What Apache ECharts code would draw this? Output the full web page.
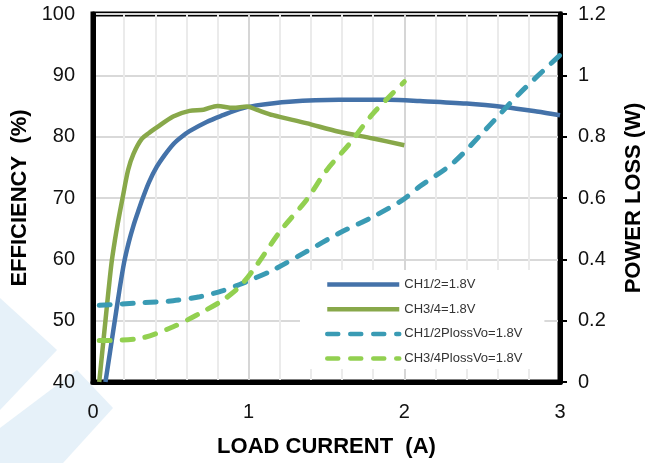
<!DOCTYPE html>
<html>
<head>
<meta charset="utf-8">
<script src="https://cdn.jsdelivr.net/npm/echarts@6/dist/echarts.min.js"></script>
<style>
html,body{margin:0;padding:0;background:#fff;}
#chart{width:654px;height:463px;}
</style>
</head>
<body>
<div id="chart"></div>
<script>
// ---- Data ----
const xTicks = [0, 1, 2, 3];
const effTicks = [40, 50, 60, 70, 80, 90, 100];
const lossTicks = [0, 0.2, 0.4, 0.6, 0.8, 1, 1.2];

const seriesNames = ['CH1/2=1.8V', 'CH3/4=1.8V', 'CH1/2PlossVo=1.8V', 'CH3/4PlossVo=1.8V'];

const ch12EffX = [0.08, 0.11, 0.14, 0.17, 0.2, 0.23, 0.26, 0.29, 0.32, 0.36, 0.41, 0.46, 0.52, 0.57, 0.62, 0.73, 0.835, 0.94, 1.05, 1.26, 1.58, 1.9, 2.1, 2.4, 2.65, 2.85, 3.0];
const ch12EffY = [40, 45, 50, 55, 59.5, 62.8, 65.5, 67.8, 70, 72.6, 75.1, 77, 78.9, 80, 80.9, 82.4, 83.5, 84.5, 85.1, 85.7, 86.0, 86.0, 85.8, 85.4, 84.8, 84.1, 83.5];

const ch34EffX = [0.04, 0.06, 0.08, 0.1, 0.12, 0.14, 0.16, 0.19, 0.226, 0.26, 0.312, 0.36, 0.41, 0.515, 0.62, 0.71, 0.8, 0.9, 0.99, 1.05, 1.156, 1.37, 1.58, 1.8, 2.0];
const ch34EffY = [40, 45, 50, 55, 59.6, 63, 66, 70, 74.6, 77.2, 79.6, 80.6, 81.5, 83.3, 84.2, 84.4, 85.0, 84.7, 84.9, 84.4, 83.5, 82.2, 80.8, 79.7, 78.6];

const ch12LossX = [0.04, 0.3, 0.515, 0.686, 0.835, 0.942, 1.0, 1.156, 1.37, 1.58, 1.8, 1.99, 2.1, 2.31, 2.52, 2.74, 3.0];
const ch12LossY = [0.25, 0.258, 0.265, 0.278, 0.298, 0.318, 0.33, 0.365, 0.425, 0.485, 0.539, 0.594, 0.638, 0.713, 0.822, 0.941, 1.066];

const ch34LossX = [0.04, 0.3, 0.515, 0.686, 0.835, 0.942, 1.05, 1.2, 1.37, 1.5, 1.65, 1.8, 2.0];
const ch34LossY = [0.135, 0.142, 0.18, 0.224, 0.267, 0.311, 0.38, 0.49, 0.593, 0.69, 0.778, 0.876, 0.979];

const zip = (xs, ys) => xs.map((x, i) => [x, ys[i]]);

const FONT = "'Liberation Sans', Arial, sans-serif";
const chart = echarts.init(document.getElementById('chart'));

chart.setOption({
  backgroundColor: '#fff',
  animation: false,
  textStyle: { fontFamily: FONT },
  graphic: [
    { type: 'polygon', z: -100, silent: true,
      shape: { points: [[0, 298], [57, 350], [0, 410]] },
      style: { fill: '#e6f1f9' } },
    { type: 'polygon', z: -100, silent: true,
      shape: { points: [[0, 428], [77, 370], [113, 408], [63, 463], [0, 463]] },
      style: { fill: '#e6f1f9' } }
  ],
  grid: {
    left: 93, right: 94, top: 14, bottom: 81,
    show: true, borderColor: '#000', borderWidth: 5,
    backgroundColor: 'transparent'
  },
  legend: {
    orient: 'vertical',
    left: 300, top: 270,
    padding: [8, 22, 4, 25],
    itemGap: 11.7,
    itemWidth: 72, itemHeight: 14,
    backgroundColor: '#fff',
    data: seriesNames,
    itemStyle: { opacity: 0, borderWidth: 0 },
    lineStyle: { width: 4.5 },
    textStyle: { fontSize: 13, color: '#333', fontFamily: FONT }
  },
  xAxis: {
    type: 'value', min: xTicks[0], max: xTicks[xTicks.length - 1], interval: 1,
    name: 'LOAD CURRENT  (A)', nameLocation: 'middle', nameGap: 54,
    nameTextStyle: { fontSize: 22, fontWeight: 'bold', color: '#000', fontFamily: FONT },
    axisLine: { show: true, lineStyle: { color: '#000', width: 5 } },
    axisTick: { show: false },
    axisLabel: { fontSize: 20, color: '#111', margin: 20, fontFamily: FONT },
    splitLine: { show: true, lineStyle: { color: '#d6d6d6', width: 2 } },
    minorTick: { show: false, splitNumber: 5 },
    minorSplitLine: { show: true, lineStyle: { color: '#ebebeb', width: 2 } }
  },
  yAxis: [
    {
      type: 'value', min: effTicks[0], max: effTicks[effTicks.length - 1], interval: 10,
      position: 'left',
      name: 'EFFICIENCY  (%)', nameLocation: 'middle', nameGap: 60,
      nameTextStyle: { fontSize: 22, fontWeight: 'bold', color: '#000', fontFamily: FONT },
      axisLine: { show: true, lineStyle: { color: '#000', width: 5 } },
      axisTick: { show: false },
      axisLabel: { fontSize: 20, color: '#111', margin: 18, fontFamily: FONT },
      splitLine: { show: true, lineStyle: { color: '#d9d9d9', width: 2 } }
    },
    {
      type: 'value', min: lossTicks[0], max: lossTicks[lossTicks.length - 1], interval: 0.2,
      position: 'right',
      name: 'POWER LOSS (W)', nameLocation: 'middle', nameGap: 63,
      nameTextStyle: { fontSize: 22, fontWeight: 'bold', color: '#000', fontFamily: FONT },
      axisLine: { show: true, lineStyle: { color: '#000', width: 5 } },
      axisTick: { show: true, inside: false, length: 7, lineStyle: { color: '#000', width: 2 } },
      axisLabel: { fontSize: 20, color: '#111', margin: 18, fontFamily: FONT,
        formatter: v => String(Math.round(v * 10) / 10) },
      splitLine: { show: false }
    }
  ],
  series: [
    { name: seriesNames[0], type: 'line', yAxisIndex: 0, symbol: 'none', smooth: 0.3,
      data: zip(ch12EffX, ch12EffY), z: 3,
      lineStyle: { color: '#4472a9', width: 4.5 }, itemStyle: { color: '#4472a9' } },
    { name: seriesNames[1], type: 'line', yAxisIndex: 0, symbol: 'none', smooth: 0.3,
      data: zip(ch34EffX, ch34EffY), z: 3,
      lineStyle: { color: '#88a84a', width: 4.5 }, itemStyle: { color: '#88a84a' } },
    { name: seriesNames[2], type: 'line', yAxisIndex: 1, symbol: 'none', smooth: 0.3,
      data: zip(ch12LossX, ch12LossY), z: 3,
      lineStyle: { color: '#3a9bb4', width: 5, type: [11, 12], cap: 'round' }, itemStyle: { color: '#3a9bb4' } },
    { name: seriesNames[3], type: 'line', yAxisIndex: 1, symbol: 'none', smooth: 0.3,
      data: zip(ch34LossX, ch34LossY), z: 3,
      lineStyle: { color: '#92d050', width: 5, type: [11, 12], cap: 'round' }, itemStyle: { color: '#92d050' } }
  ]
});
</script>
</body>
</html>
